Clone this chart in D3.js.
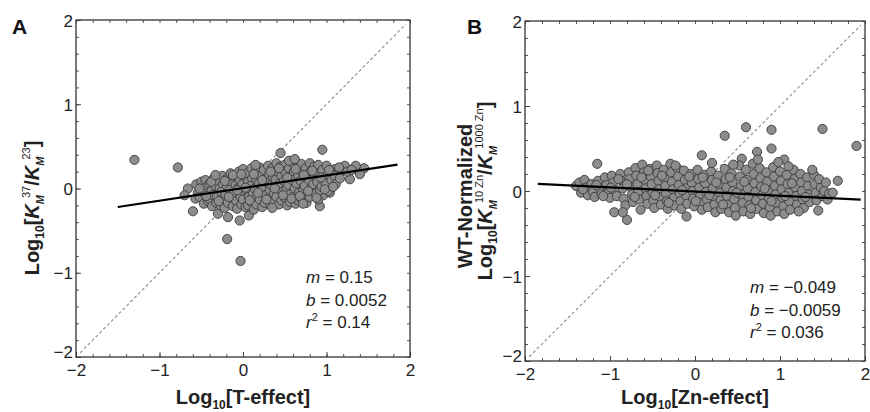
<!DOCTYPE html>
<html><head><meta charset="utf-8">
<script src="https://cdn.jsdelivr.net/npm/d3@7"></script>
<style>body{margin:0;background:#fff}svg{display:block}text{font-family:"Liberation Sans",Arial,Helvetica,sans-serif}</style>
</head><body>
<svg id="c" width="870" height="412"></svg>
<script>
// ---------- DATA ----------
const majorTicks = [-2, -1, 0, 1, 2];
const panelLetters = ["A", "B"];
const xTitles = ["T-effect", "Zn-effect"];
const statsA = ["0.15", "0.0052", "0.14"];
const statsB = ["−0.049", "−0.0059", "0.036"];
const fitA = {m: 0.15, b: 0.0052, x0: -1.5, x1: 1.85};
const fitB = {m: -0.049, b: -0.0059, x0: -1.85, x1: 1.95};
const diagonal = [-1.95, 1.95];

const pointsA = [
[-1.30,0.34],[-0.78,0.25],[-0.66,0.00],[-0.70,-0.08],[-0.60,-0.27],[-0.30,-0.30],[-0.18,-0.34],[-0.04,-0.38],[0.07,-0.32],[-0.19,-0.60],[-0.03,-0.86],[0.45,0.42],[0.95,0.46],[0.92,-0.21],[1.04,-0.05],[0.96,-0.08],[1.28,0.11],[1.45,0.24],[1.35,0.27],[1.22,0.27],[1.17,0.20],[1.10,0.23],
[-0.56,0.05],[-0.54,-0.05],[-0.57,-0.12],[-0.50,0.08],[-0.49,-0.02],[-0.52,-0.10],[-0.47,-0.18],
[-0.45,0.10],[-0.43,0.02],[-0.46,-0.06],[-0.42,-0.15],[-0.40,0.06],[-0.38,-0.03],[-0.41,-0.12],[-0.37,-0.21],
[-0.35,0.12],[-0.33,0.03],[-0.36,-0.08],[-0.32,-0.17],[-0.30,0.09],[-0.28,0.00],[-0.31,-0.10],[-0.27,-0.20],
[-0.25,0.15],[-0.24,0.05],[-0.26,-0.04],[-0.23,-0.13],[-0.22,-0.23],[-0.20,0.11],[-0.19,0.02],[-0.21,-0.07],[-0.18,-0.17],
[-0.15,0.18],[-0.14,0.08],[-0.16,-0.02],[-0.13,-0.12],[-0.12,-0.21],[-0.10,0.13],[-0.09,0.04],[-0.11,-0.06],[-0.08,-0.15],[-0.07,-0.24],
[-0.05,0.20],[-0.04,0.10],[-0.06,0.00],[-0.03,-0.10],[-0.02,-0.19],[0.00,0.23],[0.01,0.14],[-0.01,0.05],[0.02,-0.04],[0.00,-0.13],[0.03,-0.22],
[0.05,0.18],[0.06,0.08],[0.04,-0.01],[0.07,-0.10],[0.06,-0.20],[0.10,0.24],[0.11,0.12],[0.09,0.03],[0.12,-0.06],[0.10,-0.16],[0.13,-0.25],
[0.15,0.20],[0.16,0.10],[0.14,0.00],[0.17,-0.09],[0.16,-0.19],[0.20,0.25],[0.21,0.15],[0.19,0.06],[0.22,-0.03],[0.20,-0.13],[0.23,-0.22],
[0.25,0.22],[0.26,0.11],[0.24,0.02],[0.27,-0.08],[0.26,-0.17],[0.30,0.27],[0.31,0.17],[0.29,0.07],[0.32,-0.02],[0.30,-0.12],[0.33,-0.20],
[0.35,0.24],[0.36,0.13],[0.34,0.04],[0.37,-0.06],[0.36,-0.16],[0.40,0.30],[0.41,0.20],[0.39,0.10],[0.42,0.00],[0.40,-0.10],[0.43,-0.19],
[0.45,0.26],[0.46,0.15],[0.44,0.06],[0.47,-0.04],[0.46,-0.14],[0.50,0.28],[0.51,0.19],[0.49,0.09],[0.52,-0.01],[0.50,-0.11],[0.53,-0.20],
[0.55,0.24],[0.56,0.14],[0.54,0.04],[0.57,-0.07],[0.56,-0.16],[0.60,0.30],[0.61,0.20],[0.59,0.10],[0.62,0.00],[0.60,-0.10],[0.63,-0.18],
[0.65,0.26],[0.66,0.16],[0.64,0.06],[0.67,-0.05],[0.66,-0.14],[0.70,0.29],[0.71,0.19],[0.69,0.09],[0.72,-0.02],[0.70,-0.12],
[0.75,0.24],[0.76,0.13],[0.74,0.03],[0.77,-0.08],[0.76,-0.17],[0.80,0.30],[0.81,0.20],[0.79,0.10],[0.82,0.00],[0.80,-0.10],
[0.85,0.26],[0.86,0.15],[0.84,0.05],[0.87,-0.06],[0.90,0.28],[0.91,0.18],[0.89,0.08],[0.92,-0.02],[0.90,-0.13],
[0.95,0.22],[0.96,0.12],[0.94,0.02],[1.00,0.27],[1.01,0.16],[0.99,0.06],[1.02,-0.03],[1.05,0.20],[1.06,0.10],[1.10,0.15],[1.11,0.05],[1.15,0.25],[1.16,0.12],[1.25,0.20],[1.30,0.22],[1.40,0.17],
[-0.52,0.00],[-0.44,-0.09],[-0.38,0.08],[-0.29,-0.15],[-0.22,0.09],[-0.17,-0.10],[-0.12,0.16],[-0.07,-0.02],[-0.02,0.17],[0.03,0.01],[0.08,-0.14],[0.13,0.17],[0.18,-0.05],[0.23,0.10],[0.28,-0.13],[0.33,0.20],[0.38,0.00],[0.43,0.24],[0.48,-0.08],[0.53,0.13],[0.58,-0.12],[0.63,0.23],[0.68,-0.09],[0.73,0.16],[0.78,-0.03],[0.83,0.21],[0.88,-0.11],[0.93,0.13],[0.98,-0.01],[1.03,0.22],[1.08,0.02],[0.35,-0.23],[0.55,0.33],[0.15,0.28],[-0.33,0.16],[0.72,-0.18],[0.62,0.35]
];

const pointsB = [
[-1.15,0.32],[0.35,0.65],[0.60,0.75],[0.90,0.72],[1.50,0.73],[1.90,0.53],[0.90,0.50],[0.73,0.46],[0.08,0.42],[1.05,0.37],[-0.95,-0.25],[-0.80,-0.34],[-0.10,-0.30],[1.45,-0.23],[1.68,0.12],[0.55,0.38],
[-1.40,0.06],[-1.36,0.10],[-1.34,-0.02],[-1.30,0.13],[-1.28,0.04],[-1.26,-0.05],[-1.22,0.08],[-1.20,-0.01],[-1.18,-0.07],[-1.14,0.12],[-1.12,0.03],[-1.10,-0.04],[-1.06,0.16],[-1.04,0.07],[-1.02,-0.02],[-1.00,-0.08],[-0.98,0.18],[-0.96,0.10],[-0.94,0.01],[-0.92,-0.06],
[-0.88,0.20],[-0.86,0.12],[-0.85,0.03],[-0.84,-0.09],[-0.82,-0.17],[-0.78,0.22],[-0.77,0.14],[-0.76,0.05],[-0.74,-0.04],[-0.73,-0.13],[-0.70,0.27],[-0.69,0.18],[-0.68,0.08],[-0.67,-0.01],[-0.66,-0.10],[-0.64,-0.22],
[-0.62,0.31],[-0.60,0.22],[-0.59,0.13],[-0.58,0.03],[-0.57,-0.06],[-0.56,-0.15],[-0.53,0.26],[-0.52,0.17],[-0.51,0.08],[-0.50,-0.02],[-0.49,-0.11],[-0.48,-0.20],
[-0.45,0.30],[-0.44,0.21],[-0.43,0.12],[-0.42,0.02],[-0.41,-0.07],[-0.40,-0.16],[-0.37,0.25],[-0.36,0.15],[-0.35,0.06],[-0.34,-0.03],[-0.33,-0.12],[-0.32,-0.21],
[-0.29,0.32],[-0.28,0.22],[-0.27,0.11],[-0.26,0.02],[-0.25,-0.08],[-0.24,-0.17],[-0.21,0.27],[-0.20,0.17],[-0.19,0.07],[-0.18,-0.03],[-0.17,-0.12],[-0.16,-0.21],
[-0.13,0.24],[-0.12,0.13],[-0.11,0.03],[-0.10,-0.06],[-0.09,-0.15],[-0.05,0.20],[-0.04,0.10],[-0.03,0.00],[-0.02,-0.09],[-0.01,-0.18],
[0.03,0.25],[0.04,0.14],[0.05,0.04],[0.06,-0.06],[0.07,-0.14],[0.08,-0.22],[0.11,0.19],[0.12,0.09],[0.13,-0.01],[0.14,-0.10],[0.15,-0.19],
[0.19,0.23],[0.20,0.13],[0.21,0.03],[0.22,-0.07],[0.23,-0.16],[0.24,-0.25],[0.27,0.18],[0.28,0.08],[0.29,-0.02],[0.30,-0.11],[0.31,-0.21],
[0.35,0.26],[0.36,0.14],[0.37,0.04],[0.38,-0.06],[0.39,-0.16],[0.40,-0.25],[0.43,0.21],[0.44,0.10],[0.45,0.00],[0.46,-0.10],[0.47,-0.20],[0.48,-0.29],
[0.52,0.30],[0.53,0.17],[0.54,0.06],[0.55,-0.04],[0.56,-0.14],[0.57,-0.24],[0.60,0.25],[0.61,0.13],[0.62,0.03],[0.63,-0.07],[0.64,-0.17],[0.65,-0.27],
[0.68,0.32],[0.69,0.20],[0.70,0.09],[0.71,-0.01],[0.72,-0.11],[0.73,-0.21],[0.76,0.27],[0.77,0.15],[0.78,0.05],[0.79,-0.05],[0.80,-0.15],[0.81,-0.26],
[0.84,0.22],[0.85,0.11],[0.86,0.01],[0.87,-0.09],[0.88,-0.19],[0.89,-0.29],[0.92,0.28],[0.93,0.17],[0.94,0.06],[0.95,-0.04],[0.96,-0.14],[0.97,-0.24],
[1.00,0.23],[1.01,0.12],[1.02,0.02],[1.03,-0.08],[1.04,-0.18],[1.05,-0.27],[1.08,0.19],[1.09,0.08],[1.10,-0.02],[1.11,-0.12],[1.12,-0.22],
[1.16,0.25],[1.17,0.14],[1.18,0.04],[1.19,-0.06],[1.20,-0.16],[1.24,0.20],[1.25,0.10],[1.26,0.00],[1.27,-0.10],[1.28,-0.20],
[1.32,0.16],[1.33,0.06],[1.34,-0.04],[1.35,-0.13],[1.40,0.19],[1.41,0.08],[1.42,-0.02],[1.43,-0.11],[1.48,0.04],[1.50,-0.06],[1.52,0.00],[1.56,-0.10],[1.58,-0.03],[1.62,-0.02],
[-1.32,0.02],[-1.16,0.07],[-1.08,-0.06],[-0.99,0.04],[-0.90,0.14],[-0.80,0.08],[-0.71,-0.07],[-0.63,0.16],[-0.55,0.24],[-0.47,-0.05],[-0.39,0.18],[-0.31,-0.14],[-0.23,0.30],[-0.15,0.01],[-0.07,0.17],[0.01,-0.12],[0.09,0.16],[0.17,-0.05],[0.25,0.10],[0.33,-0.16],[0.41,0.16],[0.49,-0.02],[0.58,0.11],[0.66,-0.20],[0.74,0.37],[0.82,0.03],[0.90,-0.12],[0.98,0.34],[1.06,-0.06],[1.14,0.09],[1.22,-0.24],[1.30,-0.07],[1.38,0.25],[1.46,0.14],[1.54,0.10],[0.20,0.33],[-0.85,-0.25],[0.45,0.31],[1.10,0.29]
];

// ---------- DRAW ----------
const svg = d3.select("#c");
const fmt = d => d < 0 ? "−" + Math.abs(d) : String(d);
const minor = d3.range(-2, 2.001, 0.2).map(v => +v.toFixed(1));

function panel(o) {
  const x = d3.scaleLinear().domain([-2, 2]).range([o.l, o.r]);
  const y = d3.scaleLinear().domain([-2, 2]).range([o.b, o.t]);
  const g = svg.append("g");

  g.append("line")
    .attr("x1", x(diagonal[0])).attr("y1", y(diagonal[0]))
    .attr("x2", x(diagonal[1])).attr("y2", y(diagonal[1]))
    .attr("stroke", "#8a8a8a").attr("stroke-width", 1.1).attr("stroke-dasharray", "3,2.5");

  g.append("g").selectAll("circle").data(o.points).join("circle")
    .attr("cx", d => x(d[0])).attr("cy", d => y(d[1])).attr("r", 4.6)
    .attr("fill", "#8c8c8c").attr("stroke", "#3a3a3a").attr("stroke-width", 0.9);

  g.append("line")
    .attr("x1", x(o.fit.x0)).attr("y1", y(o.fit.m * o.fit.x0 + o.fit.b))
    .attr("x2", x(o.fit.x1)).attr("y2", y(o.fit.m * o.fit.x1 + o.fit.b))
    .attr("stroke", "#000").attr("stroke-width", 2.2);

  const axes = [
    [d3.axisBottom(x), `translate(0,${o.b})`], [d3.axisTop(x), `translate(0,${o.t})`],
    [d3.axisLeft(y), `translate(${o.l},0)`], [d3.axisRight(y), `translate(${o.r},0)`]
  ];
  axes.forEach(([ax, tr]) => {
    g.append("g").attr("transform", tr)
      .call(ax.tickValues(minor).tickSizeInner(-3).tickSizeOuter(0).tickFormat(""))
      .call(s => s.select(".domain").remove())
      .selectAll("line").attr("stroke", "#555");
  });
  const axB = g.append("g").attr("transform", `translate(0,${o.b})`)
    .call(d3.axisBottom(x).tickValues(majorTicks).tickSizeInner(-5).tickSizeOuter(0).tickPadding(7).tickFormat(fmt));
  const axL = g.append("g").attr("transform", `translate(${o.l},0)`)
    .call(d3.axisLeft(y).tickValues(majorTicks).tickSizeInner(-5).tickSizeOuter(0).tickPadding(3).tickFormat(fmt));
  [axB, axL].forEach(a => {
    a.select(".domain").remove();
    a.selectAll("line").attr("stroke", "#444");
    a.selectAll("text").attr("font-size", 17).attr("fill", "#222")
      .attr("font-family", "'Liberation Sans',Arial,sans-serif");
  });
  axL.selectAll("text").attr("dy", d => d === -2 ? "0.05em" : "0.36em");

  g.append("rect").attr("x", o.l).attr("y", o.t).attr("width", o.r - o.l).attr("height", o.b - o.t)
    .attr("fill", "none").attr("stroke", "#333").attr("stroke-width", 1.3);

  g.append("text").attr("x", o.letterX).attr("y", 34).attr("font-size", 21).attr("font-weight", "bold")
    .attr("fill", "#111").text(o.letter);

  const xt = g.append("text").attr("x", (o.l + o.r) / 2).attr("y", 404).attr("text-anchor", "middle")
    .attr("font-size", 20).attr("font-weight", "bold").attr("fill", "#222");
  xt.append("tspan").text("Log");
  xt.append("tspan").attr("font-size", 12).attr("dy", 5).text("10");
  xt.append("tspan").attr("dy", -5).text("[" + o.xTitle + "]");

  const lab = [["m", ""], ["b", ""], ["r", "2"]];
  lab.forEach((L, i) => {
    const t = g.append("text").attr("x", o.statX).attr("y", o.statY + i * 22.5)
      .attr("font-size", 17).attr("fill", "#222");
    t.append("tspan").attr("font-style", "italic").text(L[0]);
    if (L[1]) t.append("tspan").attr("font-size", 11).attr("dy", -7).text(L[1]);
    t.append("tspan").attr("dy", L[1] ? 7 : 0).text(" = " + o.stats[i]);
  });
  return g;
}

const gA = panel({l: 76, r: 410, t: 20, b: 357, points: pointsA, fit: fitA, letter: panelLetters[0], letterX: 12,
  xTitle: xTitles[0], stats: statsA, statX: 306, statY: 283});
const gB = panel({l: 525, r: 865, t: 21, b: 361, points: pointsB, fit: fitB, letter: panelLetters[1], letterX: 467,
  xTitle: xTitles[1], stats: statsB, statX: 750, statY: 293});

function kmTitle(g, cx, cy, sup1, sup2) {
  const t = g.append("text").attr("transform", `translate(${cx},${cy}) rotate(-90)`)
    .attr("text-anchor", "middle").attr("font-size", 20).attr("font-weight", "bold").attr("fill", "#222");
  t.append("tspan").text("Log");
  t.append("tspan").attr("font-size", 12).attr("dy", 5).text("10");
  t.append("tspan").attr("dy", -5).text("[");
  t.append("tspan").attr("font-style", "italic").text("K");
  t.append("tspan").attr("font-style", "italic").attr("font-size", 11).attr("dy", 5).text("M");
  t.append("tspan").attr("font-size", 11).attr("font-weight", "normal").attr("dx", -3).attr("dy", -14).text(sup1);
  t.append("tspan").attr("dy", 9).text("/");
  t.append("tspan").attr("font-style", "italic").text("K");
  t.append("tspan").attr("font-style", "italic").attr("font-size", 11).attr("dy", 5).text("M");
  t.append("tspan").attr("font-size", 11).attr("font-weight", "normal").attr("dx", -3).attr("dy", -14).text(sup2);
  t.append("tspan").attr("dy", 9).text("]");
}
kmTitle(gA, 39, 208, "37", "23");
gB.append("text").attr("transform", "translate(472,196) rotate(-90)").attr("text-anchor", "middle")
  .attr("font-size", 20).attr("font-weight", "bold").attr("fill", "#222").text("WT-Normalized");
kmTitle(gB, 492, 191, "10 Zn", "1000 Zn");
</script>
</body></html>
